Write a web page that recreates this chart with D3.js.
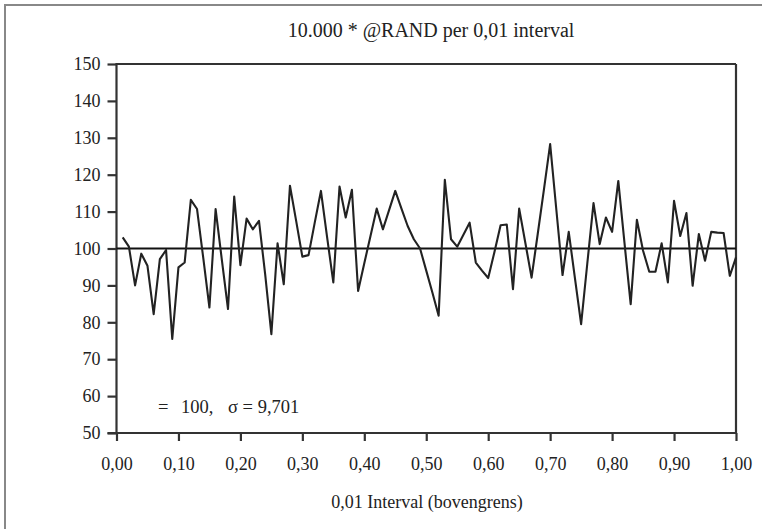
<!DOCTYPE html>
<html><head><meta charset="utf-8">
<script src="https://cdn.jsdelivr.net/npm/d3@7"></script>
<style>
body{margin:0;background:#fff;}
svg{display:block;}
text{font-family:"Liberation Serif","Times New Roman",serif;fill:#222;}
</style></head>
<body><svg id="c" width="762" height="529"></svg>
<script>
const titleText = "10.000 * @RAND per 0,01 interval";
const xTitle = "0,01 Interval (bovengrens)";
const meanValue = 100;
const statsLabels = ["=", "100,", "σ = 9,701"];
const xTickValues = [0,0.1,0.2,0.3,0.4,0.5,0.6,0.7,0.8,0.9,1.0];
const xTickLabels = ["0,00","0,10","0,20","0,30","0,40","0,50","0,60","0,70","0,80","0,90","1,00"];
const yTickValues = [50,60,70,80,90,100,110,120,130,140,150];
const counts = [
 103,100.5,90,98.6,95.3,82.2,97.1,99.6,75.5,94.9,
 96.2,113.2,110.7,97.5,84,110.7,97,83.6,114.1,95.5,
 108.1,105.2,107.5,93,76.8,101.4,90.3,117,107.5,97.8,
 98.2,107,115.6,103,90.8,116.8,108.4,115.9,88.5,96,
 103.4,110.8,105.2,110.4,115.6,110.8,106.1,102.5,100,94,
 88,81.8,118.6,102.5,100.5,103.7,107,96.2,94,92,
 99,106.3,106.5,89,110.8,101.5,92.1,104,116,128.3,
 110.5,92.8,104.5,92,79.5,96,112.3,101.2,108.4,104.5,
 118.3,101.5,84.9,107.8,99.4,93.7,93.7,101.4,90.8,112.9,
 103.4,109.6,89.9,103.9,96.7,104.5,104.3,104.2,92.6,97.6
];
const intervals = counts.map((_, i) => (i + 1) / 100);

const svg = d3.select("#c");
const L = 116.5, R = 736, T = 64, B = 433;
const x = d3.scaleLinear().domain([0, 1]).range([L, R]);
const y = d3.scaleLinear().domain([50, 150]).range([B, T]);

// outer frame (left and top)
svg.append("line").attr("x1",5).attr("x2",5).attr("y1",4).attr("y2",529).attr("stroke","#888").attr("stroke-width",2);
svg.append("line").attr("x1",4).attr("x2",762).attr("y1",5).attr("y2",5).attr("stroke","#888").attr("stroke-width",2);

// title
svg.append("text").attr("x", 431).attr("y", 37).attr("text-anchor","middle").attr("font-size",20).text(titleText);

// plot frame top/right
svg.append("line").attr("x1",L).attr("x2",R).attr("y1",T).attr("y2",T).attr("stroke","#333").attr("stroke-width",2.2);
svg.append("line").attr("x1",R).attr("x2",R).attr("y1",T).attr("y2",B).attr("stroke","#333").attr("stroke-width",2.2);

// axes
const yAxis = d3.axisLeft(y).tickValues(yTickValues).tickSize(9).tickPadding(7).tickFormat(d3.format("d"));
const gy = svg.append("g").attr("transform",`translate(${L},0)`).call(yAxis);
const xAxis = d3.axisBottom(x).tickValues(xTickValues).tickSize(8).tickPadding(16).tickFormat((d,i)=>xTickLabels[i]);
const gx = svg.append("g").attr("transform",`translate(0,${B})`).call(xAxis);
[gx, gy].forEach(g => {
  g.select(".domain").attr("stroke","#333").attr("stroke-width",2.2);
  g.selectAll(".tick line").attr("stroke","#333").attr("stroke-width",2.2);
  g.selectAll(".tick text").attr("font-family","Liberation Serif, serif").attr("font-size",18).attr("fill","#222");
});
gy.select(".domain").attr("d", `M0,${B+1}V${T-1}`);
gx.select(".domain").attr("d", `M${L-9},0H${R+1}`);

// mean line
svg.append("line").attr("x1",x(0)).attr("x2",x(1)).attr("y1",y(meanValue)).attr("y2",y(meanValue)).attr("stroke","#111").attr("stroke-width",2.2);

// data line
const line = d3.line().x((d,i)=>x(intervals[i])).y(d=>y(d));
svg.append("path").datum(counts).attr("d",line).attr("fill","none").attr("stroke","#222").attr("stroke-width",2.1).attr("stroke-linejoin","round");

// stats annotation
const st = svg.append("text").attr("y", 413).attr("font-size",18.5);
st.append("tspan").attr("x",158).text(statsLabels[0]);
st.append("tspan").attr("x",181).text(statsLabels[1]);
st.append("tspan").attr("x",228).text(statsLabels[2]);

// x title
svg.append("text").attr("x", 427).attr("y", 508).attr("text-anchor","middle").attr("font-size",18).text(xTitle);
</script></body></html>
